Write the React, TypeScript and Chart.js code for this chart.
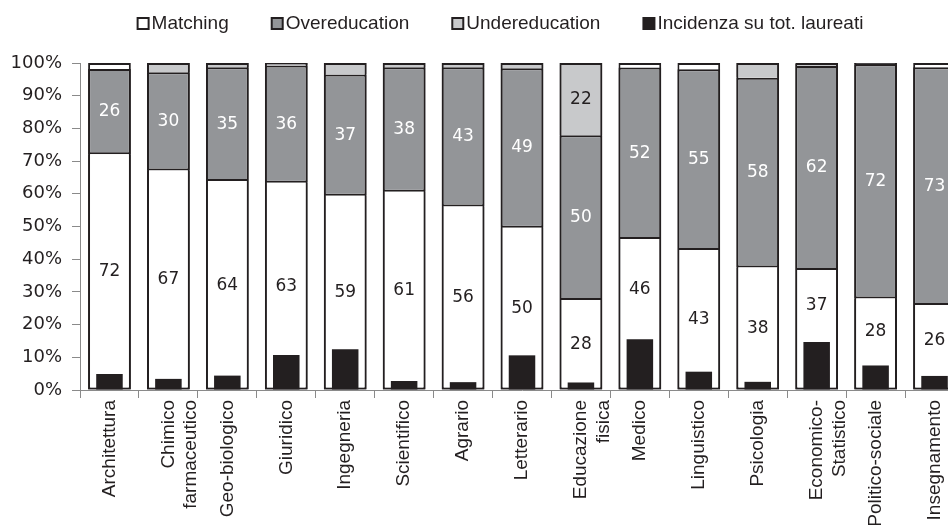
import React, { useEffect, useRef } from "react";
import { Chart, registerables } from "chart.js";

Chart.register(...registerables);

const categories: string[][] = [
  ["Architettura"],
  ["Chimico", "farmaceutico"],
  ["Geo-biologico"],
  ["Giuridico"],
  ["Ingegneria"],
  ["Scientifico"],
  ["Agrario"],
  ["Letterario"],
  ["Educazione", "fisica"],
  ["Medico"],
  ["Linguistico"],
  ["Psicologia"],
  ["Economico-", "Statistico"],
  ["Politico-sociale"],
  ["Insegnamento"],
];

const matching = [72.1, 67.1, 63.9, 63.4, 59.4, 60.6, 56.1, 49.6, 27.5, 46.2, 42.8, 37.5, 36.7, 28.0, 26.0];
const overeducation = [26.1, 30.1, 34.8, 35.8, 37.1, 38.1, 42.6, 48.8, 50.4, 52.4, 55.3, 58.0, 62.4, 71.6, 72.7];
const undereducation = [0, 2.8, 1.3, 0.8, 3.5, 1.3, 1.3, 1.6, 22.1, 0, 0, 4.5, 0.6, 0.4, 0];
const incidenza = [4.9, 3.4, 4.4, 10.7, 12.5, 2.75, 2.4, 10.6, 2.3, 15.5, 5.6, 2.5, 14.7, 7.5, 4.3];
const barTotals = [100, 100, 100, 100, 100, 100, 100, 100, 100, 100, 100, 100, 100, 100, 100];
const yTicks = [0, 10, 20, 30, 40, 50, 60, 70, 80, 90, 100];

const DARK = "#231f20";
const GREY = "#939598";
const LIGHT = "#c8c9cb";
const AXIS = "#8a8a8a";

const legendPlugin = {
  id: "customLegend",
  afterDraw(chart: any) {
    const ctx = chart.ctx;
    const items = chart.data.datasets.filter((d: any) => !d.isFrame);
    ctx.save();
    ctx.font = "19px 'Liberation Sans', Arial, sans-serif";
    const box = 13;
    const gapBoxText = 2;
    const itemGap = 42;
    const widths = items.map((d: any) => box + gapBoxText + ctx.measureText(d.label).width);
    const total = widths.reduce((a: number, b: number) => a + b, 0) + itemGap * (items.length - 1);
    let x = chart.width / 2 - total / 2;
    const boxTop = 17;
    const baseline = 29;
    items.forEach((d: any, i: number) => {
      ctx.fillStyle = DARK;
      ctx.fillRect(x, boxTop, box, box);
      ctx.fillStyle = d.backgroundColor;
      ctx.fillRect(x + 2, boxTop + 2, box - 4, box - 4);
      ctx.fillStyle = DARK;
      ctx.textAlign = "left";
      ctx.textBaseline = "alphabetic";
      ctx.fillText(d.label, x + box + gapBoxText, baseline);
      x += widths[i] + itemGap;
    });
    ctx.restore();
  },
};

const valueLabelPlugin = {
  id: "valueLabels",
  afterDatasetsDraw(chart: any) {
    const ctx = chart.ctx;
    ctx.save();
    ctx.font = "17px 'DejaVu Sans', sans-serif";
    ctx.textAlign = "center";
    ctx.textBaseline = "middle";
    const blackIdx = chart.data.datasets.findIndex((d: any) => d.isIncidence);
    const blackMeta = chart.getDatasetMeta(blackIdx);
    chart.data.datasets.forEach((ds: any, di: number) => {
      if (!ds.labelColor) return;
      const meta = chart.getDatasetMeta(di);
      meta.data.forEach((el: any, i: number) => {
        const v = ds.data[i];
        if (v < 10) return;
        let y = (el.y + el.base) / 2;
        if (ds.isMatching && blackMeta) {
          const bt = blackMeta.data[i].y;
          if (bt - y < 30) y = (bt + el.y) / 2;
        }
        ctx.fillStyle = ds.labelColor;
        ctx.fillText(String(Math.round(v)), el.x, y);
      });
    });
    ctx.restore();
  },
};

export default function App() {
  const ref = useRef<HTMLCanvasElement | null>(null);

  useEffect(() => {
    if (!ref.current) return;
    const chart = new Chart(ref.current, {
      type: "bar",
      data: {
        labels: categories,
        datasets: [
          {
            label: "Totale",
            isFrame: true,
            data: barTotals,
            stack: "frame",
            order: 3,
            backgroundColor: "#ffffff",
            borderColor: DARK,
            borderWidth: 2,
            borderSkipped: false,
            barPercentage: 0.725,
          } as any,
          {
            label: "Matching",
            isMatching: true,
            labelColor: DARK,
            data: matching,
            stack: "s",
            order: 2,
            backgroundColor: "#ffffff",
            borderColor: DARK,
            borderWidth: { top: 0, bottom: 2, left: 2, right: 2 },
            borderSkipped: false,
            barPercentage: 0.725,
          } as any,
          {
            label: "Overeducation",
            labelColor: "#ffffff",
            data: overeducation,
            stack: "s",
            order: 2,
            backgroundColor: GREY,
            borderColor: DARK,
            borderWidth: { top: 2, bottom: 2, left: 2, right: 2 },
            borderSkipped: false,
            barPercentage: 0.725,
          } as any,
          {
            label: "Undereducation",
            labelColor: DARK,
            data: undereducation,
            stack: "s",
            order: 2,
            backgroundColor: LIGHT,
            borderColor: DARK,
            borderWidth: { top: 2, bottom: 0, left: 2, right: 2 },
            borderSkipped: false,
            barPercentage: 0.725,
          } as any,
          {
            label: "Incidenza su tot. laureati",
            isIncidence: true,
            data: incidenza,
            stack: "black",
            order: 1,
            backgroundColor: DARK,
            borderWidth: 0,
            barPercentage: 0.45,
          } as any,
        ],
      },
      options: {
        animation: false,
        responsive: false,
        layout: { padding: { top: 63, right: 36, left: 0, bottom: 0 } },
        datasets: { bar: { grouped: false, categoryPercentage: 1 } },
        plugins: {
          legend: { display: false },
          tooltip: { enabled: false },
        },
        scales: {
          x: {
            stacked: true,
            offset: true,
            grid: {
              display: true,
              drawOnChartArea: false,
              offset: true,
              tickLength: 8,
              color: AXIS,
            },
            border: { display: true, color: AXIS, width: 1 },
            ticks: {
              autoSkip: false,
              maxRotation: 90,
              minRotation: 90,
              padding: 2,
              color: DARK,
              font: { family: "'Liberation Sans', Arial, sans-serif", size: 19 },
            },
            afterFit: (scale: any) => {
              scale.height = 135;
            },
          },
          y: {
            stacked: true,
            min: 0,
            max: 100,
            afterBuildTicks: (scale: any) => {
              scale.ticks = yTicks.map((v) => ({ value: v }));
            },
            grid: {
              display: true,
              drawOnChartArea: false,
              tickLength: 8,
              color: AXIS,
            },
            border: { display: true, color: AXIS, width: 1 },
            ticks: {
              padding: 10,
              color: DARK,
              font: { family: "'DejaVu Sans', sans-serif", size: 18 },
              callback: (v: any) => `${v}%`,
            },
            afterFit: (scale: any) => {
              scale.width = 80;
            },
          },
        },
      } as any,
      plugins: [legendPlugin, valueLabelPlugin],
    });
    return () => chart.destroy();
  }, []);

  return (
    <div
      style={{
        position: "absolute",
        left: 0,
        top: 0,
        width: 948,
        height: 525,
        overflow: "hidden",
        background: "#ffffff",
      }}
    >
      <canvas ref={ref} width={1000} height={525} style={{ display: "block" }} />
    </div>
  );
}
